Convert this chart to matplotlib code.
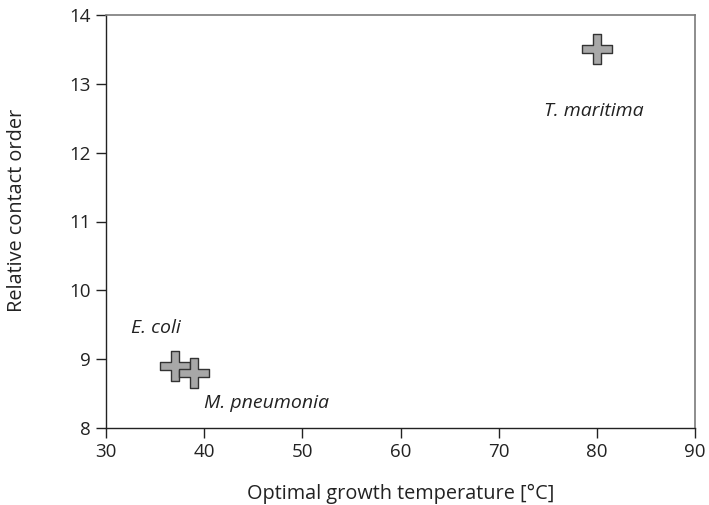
import matplotlib
matplotlib.use("Agg")
import matplotlib.pyplot as plt
from matplotlib.path import Path

plt.rcParams['font.family'] = ['Open Sans', 'DejaVu Sans']

# Organisms: optimal growth temperature vs. relative contact order
organisms = ["E. coli", "M. pneumonia", "T. maritima"]
temperature = [37, 39, 80]
contact_order = [8.9, 8.8, 13.5]
label_pos = [(32.5, 9.45), (40.0, 8.37), (74.6, 12.6)]

xticks = [30, 40, 50, 60, 70, 80, 90]
yticks = [8, 9, 10, 11, 12, 13, 14]

# Plus-shaped polygon marker
w = 0.24
verts = [(-w, 1), (w, 1), (w, w), (1, w), (1, -w), (w, -w), (w, -1),
         (-w, -1), (-w, -w), (-1, -w), (-1, w), (-w, w), (-w, 1)]
plus_marker = Path(verts, closed=True)

fig = plt.figure(figsize=(7.09, 5.05), dpi=100)
ax = fig.add_axes([106 / 709, 1 - 428 / 505, 589 / 709, 413 / 505])

ax.scatter(temperature, contact_order, marker=plus_marker, s=480,
           facecolor="#a8a8a8", edgecolor="#333333", linewidths=1.0, zorder=3)

for name, (lx, ly) in zip(organisms, label_pos):
    ax.text(lx, ly, name, style="italic", fontsize=14, color="#222222",
            ha="left", va="center")

ax.set_xlim(30, 90)
ax.set_ylim(8, 14)
ax.set_xticks(xticks)
ax.set_yticks(yticks)
ax.tick_params(axis="both", direction="out", length=7, width=1,
               labelsize=13.5, colors="#222222", pad=4)
ax.tick_params(top=False, right=False)

for side in ("left", "bottom"):
    ax.spines[side].set_color("#222222")
    ax.spines[side].set_linewidth(1.0)
for side in ("top", "right"):
    ax.spines[side].set_color("#7a7a7a")
    ax.spines[side].set_linewidth(1.2)

ax.set_xlabel("Optimal growth temperature [°C]", fontsize=14.3,
              color="#222222")
ax.set_ylabel("Relative contact order", fontsize=14.3, color="#222222")
ax.xaxis.set_label_coords(0.5, (428 - 494) / 413)
ax.yaxis.set_label_coords((17 - 106) / 589, (428 - 210) / 413)
ax.xaxis.label.set_va("center")
ax.yaxis.label.set_va("center")

fig.savefig("out.png", dpi=100)
